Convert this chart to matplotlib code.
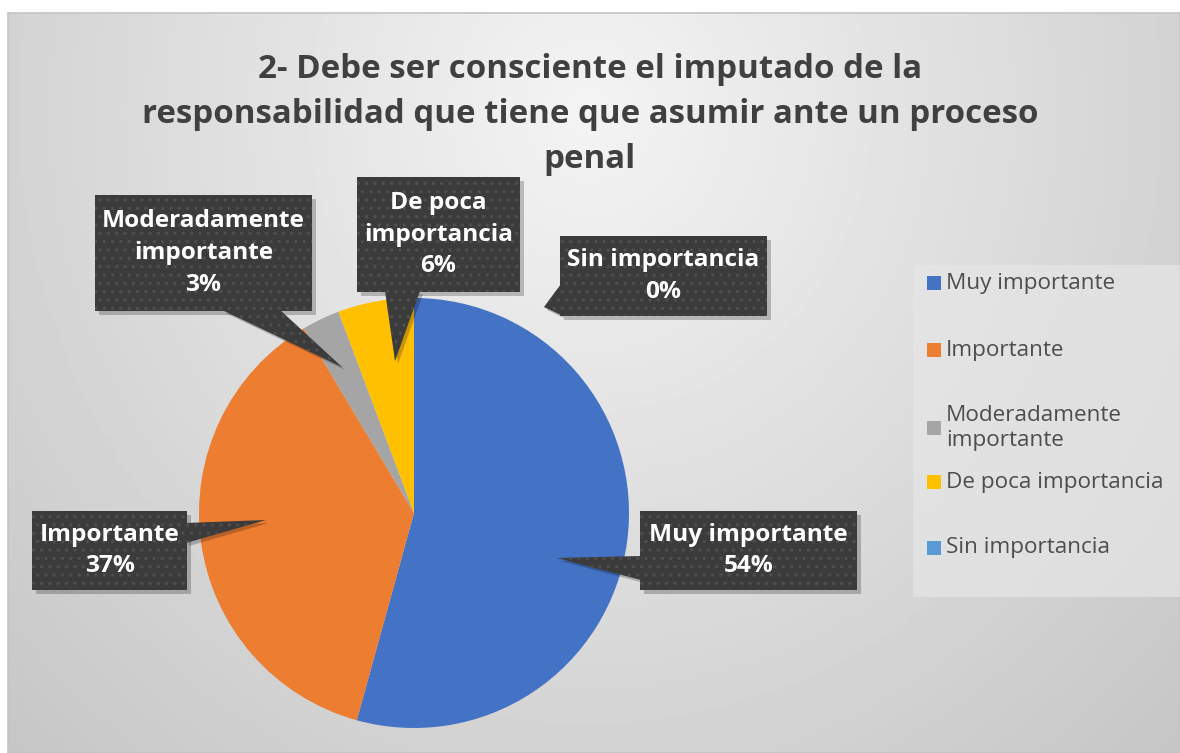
import numpy as np
import matplotlib.pyplot as plt
from matplotlib.patches import Rectangle, Polygon

plt.rcParams['font.family'] = ['Open Sans', 'DejaVu Sans']
plt.rcParams['hatch.linewidth'] = 1.2

W, H = 1180, 753

categories = ["Muy importante", "Importante", "Moderadamente importante",
              "De poca importancia", "Sin importancia"]
counts = [19, 13, 1, 2, 0]
colors = ["#4472C4", "#ED7D31", "#A5A5A5", "#FFC000", "#5B9BD5"]
legend_labels = ["Muy importante", "Importante", "Moderadamente\nimportante",
                 "De poca importancia", "Sin importancia"]
callout_names = ["Muy importante", "Importante", "Moderadamente\nimportante",
                 "De poca\nimportancia", "Sin importancia"]
title = ("2- Debe ser consciente el imputado de la\n"
         "responsabilidad que tiene que asumir ante un proceso\npenal")

fig = plt.figure(figsize=(W / 100, H / 100), dpi=100)
fig.patch.set_facecolor("white")
ax = fig.add_axes([0, 0, 1, 1])


def py(y):
    # pixel row (from top) -> data y
    return H - y


# background: soft radial gradient like the Excel chart area
gx, gy = np.meshgrid(np.linspace(8, W, 300), np.linspace(13, H, 200))
d = np.sqrt(((gx - 590) / 700) ** 2 + ((gy - 110) / 750) ** 2)
shade = np.clip(0.955 - 0.15 * d, 0, 1)
ax.imshow(shade, cmap="gray", vmin=0, vmax=1, extent=[8, W, py(H), py(13)],
          origin="upper", zorder=0, aspect="auto")
ax.add_patch(Rectangle((8, 0), W - 8, py(13), fill=False, ec="#c4c4c4",
                       lw=1.2, zorder=1))

ax.text(590, py(114), title, ha="center", va="center", fontsize=23.8,
        fontweight="bold", color="#404040", linespacing=1.48, zorder=3)

# pie
wedges, _ = ax.pie(counts, colors=colors, startangle=90, counterclock=False,
                   radius=215, center=(414, py(513)),
                   wedgeprops=dict(linewidth=0), frame=True)
for w in wedges:
    w.set_zorder(2)
ax.set_xlim(0, W)
ax.set_ylim(0, H)
ax.set_aspect("equal")
ax.axis("off")

# callouts: box (x0, y0, x1, y1), pointer base points, tip (pixels, top origin)
callouts = [
    ((640, 511, 857, 590), [(641, 556), (641, 580)], (557, 558)),
    ((32, 511, 187, 590), [(186, 523), (186, 543)], (266, 520)),
    ((95, 195, 312, 311), [(222, 310), (280, 310)], (342, 367)),
    ((357, 177, 520, 292), [(385, 291), (420, 291)], (395, 361)),
    ((560, 236, 767, 316), [(561, 284), (561, 315)], (544, 307)),
]

total = sum(counts)
for name, v, (box, base, tip) in zip(callout_names, counts, callouts):
    x0, y0, x1, y1 = box
    pts = [(tip[0], py(tip[1]))] + [(b[0], py(b[1])) for b in base]
    # shadow
    ax.add_patch(Rectangle((x0 + 4, py(y1) - 4), x1 - x0, y1 - y0,
                           fc="black", alpha=0.22, lw=0, zorder=4))
    ax.add_patch(Polygon([(p[0] + 3, p[1] - 3) for p in pts], fc="black",
                         alpha=0.22, lw=0, zorder=4))
    ax.add_patch(Polygon(pts, fc="#3b3b3b", ec="#4e4e4e", lw=0,
                         hatch="..", zorder=5))
    ax.add_patch(Rectangle((x0, py(y1)), x1 - x0, y1 - y0, fc="#3b3b3b",
                           ec="#4e4e4e", lw=0, hatch="..", zorder=5))
    pct = round(v / total * 100)
    ax.text((x0 + x1) / 2, py((y0 + y1) / 2), f"{name}\n{pct}%",
            ha="center", va="center", fontsize=17.6, fontweight="bold",
            color="white", linespacing=1.42, zorder=6)

# legend
ax.add_patch(Rectangle((913, py(597)), W - 913, 597 - 265, fc="#e6e6e6",
                       ec="none", alpha=0.7, zorder=2))
leg_y = [283, 350, 428, 482, 548]
for lab, c, y in zip(legend_labels, colors, leg_y):
    ax.add_patch(Rectangle((927, py(y) - 7), 14, 14, fc=c, lw=0, zorder=3))
    ax.text(946, py(y), lab, ha="left", va="center", fontsize=16.2,
            color="#4d4d4d", linespacing=1.22, zorder=3)

fig.savefig("out.png", dpi=100)
